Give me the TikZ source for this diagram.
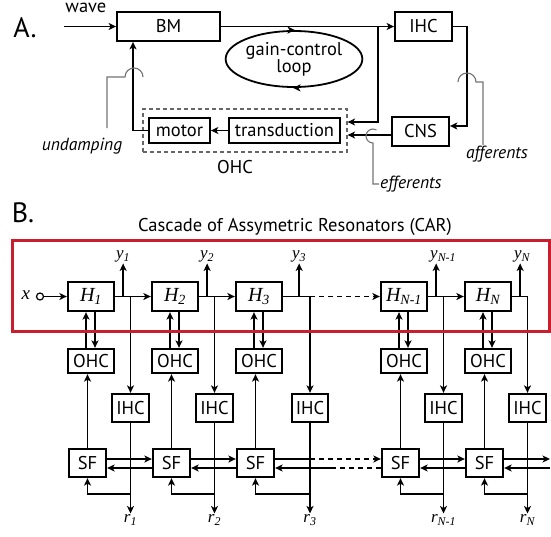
\documentclass[tikz,border=0pt]{standalone}
\usepackage{fontspec}
\setmainfont{PT Sans}
\newfontfamily\serifit{Liberation Serif}
\usetikzlibrary{positioning, calc, shapes.geometric, arrows.meta}
\definecolor{carred}{RGB}{200,30,45}
\tikzset{
	arrow/.style={line width=1.8pt, -{Stealth[length=7.5pt, width=7pt, inset=2pt]}},
	wire/.style={line width=1.8pt},
	note/.style={line width=1.1pt, draw=black!55},
	block/.style={draw, line width=1.8pt, inner sep=2pt},
	hbox/.style={block, minimum width=46.5pt, minimum height=29.5pt, font=\fontsize{20}{22}\selectfont},
	ohcbox/.style={block, minimum width=45.5pt, minimum height=24.5pt},
	ihcbox/.style={block, minimum width=36.5pt, minimum height=28.5pt},
	sfbox/.style={block, minimum width=37.5pt, minimum height=28.5pt},
	tap/.style={font=\fontsize{17}{20}\selectfont, inner sep=1pt},
	notelabel/.style={font=\fontsize{17.5}{20}\selectfont\itshape, inner sep=1pt},
}
\newcommand{\clab}[2]{{\serifit\itshape #1\textsubscript{#2}}}

\begin{document}
\begin{tikzpicture}[x=1pt, y=-1pt, on grid, font=\fontsize{18.5}{21}\selectfont]
	\useasboundingbox (0,0) rectangle (551,536);

	% panel A
	\node[font=\fontsize{28}{30}\selectfont] (labA) at (25,28) {A.};
	\node[block, minimum width=103pt, minimum height=29pt] (BM) at (168.5,26.5) {BM};
	\node[block, minimum width=57pt, minimum height=29pt] (IHCa) at (423.5,26.5) {IHC};
	\node[block, minimum width=57pt, minimum height=29pt] (CNS) at (420.5,131.5) {CNS};
	\node[block, minimum width=61pt, minimum height=25pt] (motor) at (179.5,130.5) {motor};
	\node[block, minimum width=111pt, minimum height=25pt] (trans) at (284.5,130.5) {transduction};
	\node[draw=black!60, line width=1.2pt, dash pattern=on 4pt off 3pt, minimum width=204pt, minimum height=43pt] (ohcA) at (245,130.5) {};
	\node (ohcAlab) at (235,167) {OHC};
	\node[draw, ellipse, line width=1.8pt, minimum width=102pt, minimum height=56pt, inner sep=0pt, align=center] (gcl) at (294,59) {gain-control\\[-4pt]loop};

	\coordinate (wave) at (64,26.5);
	\draw[arrow] (wave) -- (BM) node[pos=0.42, above=10pt] {wave};
	\draw[arrow] (BM) -- (IHCa);
	\coordinate (J) at (378,26.5);
	\coordinate (Jb) at (378,122);
	\draw[arrow] (J) |- (Jb -| ohcA.east);
	\coordinate (c1) at ($(CNS.west)+(0,3.5)$);
	\draw[arrow] (c1) -- (c1 -| ohcA.east);
	\draw[arrow] (trans) -- (motor);
	\coordinate (u) at (133,130.5);
	\draw[arrow] (motor.west) -- (u) -- (u |- BM.south);
	\coordinate (a1) at (467,126);
	\draw[arrow] (IHCa.east) -| (a1) -- (a1 -| CNS.east);
	\draw[arrow] ([xshift=-1pt]gcl.north) -- ([xshift=1pt]gcl.north);
	\draw[arrow] ([xshift=1pt]gcl.south) -- ([xshift=-1pt]gcl.south);

	% crossing hooks
	\node[notelabel] (und) at (82,146) {undamping};
	\node[notelabel] (aff) at (497,154) {afferents};
	\node[notelabel, anchor=west] (eff) at (379,184) {efferents};
	\coordinate (uend) at (107,128);
	\draw[note] (uend) -- (107,77) -- (125,77) arc[start angle=180, end angle=360, radius=9];
	\coordinate (affx) at (483,0);
	\draw[note] (458,82) arc[start angle=180, end angle=360, radius=9] -- (affx |- 0,82) -- (affx |- aff.north);
	\coordinate (ex) at (373,143);
	\draw[note] (eff.west) -| (ex) arc[start angle=90, end angle=300, radius=7];

	% panel B
	\node[font=\fontsize{28}{30}\selectfont] (labB) at (23,213) {B.};
	\node (cartitle) at (295,227) {Cascade of Assymetric Resonators (CAR)};

	\node[hbox] (H1) at (91,296.5) {\clab{H}{1}};
	\node[hbox, right=84pt of H1] (H2) {\clab{H}{2}};
	\node[hbox, right=84pt of H2] (H3) {\clab{H}{3}};
	\node[hbox, right=145pt of H3] (Hm) {\clab{H}{N-1}};
	\node[hbox, right=84pt of Hm] (Hn) {\clab{H}{N}};

	\node[ohcbox, below=64.5pt of H1] (O1) {OHC};
	\node[ohcbox, below=64.5pt of H2] (O2) {OHC};
	\node[ohcbox, below=64.5pt of H3] (O3) {OHC};
	\node[ohcbox, below=64.5pt of Hm] (Om) {OHC};
	\node[ohcbox, below=64.5pt of Hn] (On) {OHC};

	\node[ihcbox, below right=111.5pt and 39.5pt of H1] (I1) {IHC};
	\node[ihcbox, below right=111.5pt and 39.5pt of H2] (I2) {IHC};
	\node[ihcbox, below right=111.5pt and 51pt of H3] (I3) {IHC};
	\node[ihcbox, below right=111.5pt and 39.5pt of Hm] (Im) {IHC};
	\node[ihcbox, below right=111.5pt and 39.5pt of Hn] (In) {IHC};

	\node[sfbox, below left=166.5pt and 3.5pt of H1] (S1) {SF};
	\node[sfbox, below left=166.5pt and 3.5pt of H2] (S2) {SF};
	\node[sfbox, below left=166.5pt and 3.5pt of H3] (S3) {SF};
	\node[sfbox, below left=166.5pt and 3.5pt of Hm] (Sm) {SF};
	\node[sfbox, below left=166.5pt and 3.5pt of Hn] (Sn) {SF};

	\coordinate (t1) at ($(H1.east)+(8,0)$);
	\coordinate (t2) at ($(H2.east)+(8,0)$);
	\coordinate (t3) at ($(H3.east)+(16,0)$);
	\coordinate (tm) at ($(Hm.east)+(8,0)$);
	\coordinate (tn) at ($(Hn.east)+(8,0)$);
	\node[tap] (y1) at ($(t1)+(0,-40)$) {\clab{y}{1}};
	\node[tap] (y2) at ($(t2)+(0,-40)$) {\clab{y}{2}};
	\node[tap] (y3) at ($(t3)+(0,-40)$) {\clab{y}{3}};
	\node[tap] (ym) at ($(tm)+(7,-40)$) {\clab{y}{N-1}};
	\node[tap] (yn) at ($(tn)+(2,-40)$) {\clab{y}{N}};

	\node[tap, below=112pt of I1] (r1) {\clab{r}{1}};
	\node[tap, below=112pt of I2] (r2) {\clab{r}{2}};
	\node[tap, below=112pt of I3] (r3) {\clab{r}{3}};
	\node[tap, below=112pt of Im] (rm) {\clab{r}{N-1}};
	\node[tap, below=112pt of In] (rn) {\clab{r}{N}};

	\node[circle, draw, line width=1.2pt, inner sep=0pt, minimum size=7pt] (xin) at (40,296.5) {};
	\node[left=14pt of xin, font=\fontsize{19}{22}\selectfont] (xlab) {\clab{x}{}};
	\draw[arrow] (xin) -- (H1);

	% resonator chain
	\draw[arrow] (H1) -- (H2);
	\draw[arrow] (H2) -- (H3);
	\draw[wire] (H3) -- (I3 |- H3);
	\draw[arrow, dash pattern=on 5pt off 4pt] (I3 |- H3) -- (Hm);
	\draw[arrow] (Hm) -- (Hn);
	\draw[arrow] (Hn.east) -| (In.north);

	\draw[arrow] (t1) -- (t1 |- y1.south);
	\draw[arrow] (t2) -- (t2 |- y2.south);
	\draw[arrow] (t3) -- (t3 |- y3.south);
	\draw[arrow] (tm) -- (tm |- ym.south);
	\draw[arrow] (tn) -- (tn |- yn.south);

	\draw[arrow] (I1 |- H1) -- (I1);
	\draw[arrow] (I2 |- H2) -- (I2);
	\draw[arrow] (I3 |- H3) -- (I3);
	\draw[arrow] (Im |- Hm) -- (Im);

	% OHC loops
	\draw[arrow] ($(O1.north)+(-5,0)$) -- ($(H1.south)+(-5,0)$);
	\draw[arrow] ($(H1.south)+(4,0)$) -- ($(O1.north)+(4,0)$);
	\draw[arrow] ($(O2.north)+(-5,0)$) -- ($(H2.south)+(-5,0)$);
	\draw[arrow] ($(H2.south)+(4,0)$) -- ($(O2.north)+(4,0)$);
	\draw[arrow] ($(O3.north)+(-5,0)$) -- ($(H3.south)+(-5,0)$);
	\draw[arrow] ($(H3.south)+(4,0)$) -- ($(O3.north)+(4,0)$);
	\draw[arrow] ($(Om.north)+(-5,0)$) -- ($(Hm.south)+(-5,0)$);
	\draw[arrow] ($(Hm.south)+(4,0)$) -- ($(Om.north)+(4,0)$);
	\draw[arrow] ($(On.north)+(-5,0)$) -- ($(Hn.south)+(-5,0)$);
	\draw[arrow] ($(Hn.south)+(4,0)$) -- ($(On.north)+(4,0)$);

	\draw[arrow] (S1) -- (S1 |- O1.south);
	\draw[arrow] (S2) -- (S2 |- O2.south);
	\draw[arrow] (S3) -- (S3 |- O3.south);
	\draw[arrow] (Sm) -- (Sm |- Om.south);
	\draw[arrow] (Sn) -- (Sn |- On.south);

	% IHC outputs and feedback to SF
	\draw[arrow] (I1) -- (r1);
	\draw[arrow] (I2) -- (r2);
	\draw[arrow] (I3) -- (r3);
	\draw[arrow] (Im) -- (rm);
	\draw[arrow] (In) -- (rn);
	\draw[arrow] ($(I1 |- S1.south)+(0,16)$) -| (S1.south);
	\draw[arrow] ($(I2 |- S2.south)+(0,16)$) -| (S2.south);
	\draw[arrow] ($(I3 |- S3.south)+(0,16)$) -| (S3.south);
	\draw[arrow] ($(Im |- Sm.south)+(0,16)$) -| (Sm.south);
	\draw[arrow] ($(In |- Sn.south)+(0,16)$) -| (Sn.south);

	% SF coupling
	\draw[arrow] ($(S1.east)+(0,-4)$) -- ($(S2.west)+(0,-4)$);
	\draw[arrow] ($(S2.west)+(0,5)$) -- ($(S1.east)+(0,5)$);
	\draw[arrow] ($(S2.east)+(0,-4)$) -- ($(S3.west)+(0,-4)$);
	\draw[arrow] ($(S3.west)+(0,5)$) -- ($(S2.east)+(0,5)$);
	\draw[wire] ($(S3.east)+(0,-4)$) -- ($(I3 |- S3)+(0,-4)$);
	\draw[arrow, dash pattern=on 5pt off 4pt] ($(I3 |- S3)+(0,-4)$) -- ($(Sm.west)+(0,-4)$);
	\coordinate (d3) at ($(S3.east)!0.56!(Sm.west)+(0,5)$);
	\draw[wire, dash pattern=on 5pt off 4pt] ($(Sm.west)+(0,5)$) -- (d3);
	\draw[arrow] (d3) -- ($(S3.east)+(0,5)$);
	\draw[arrow] ($(Sm.east)+(0,-4)$) -- ($(Sn.west)+(0,-4)$);
	\draw[arrow] ($(Sn.west)+(0,5)$) -- ($(Sm.east)+(0,5)$);
	\coordinate (rim) at (550,0);
	\draw[arrow] ($(Sn.east)+(0,-4)$) -- ($(rim |- Sn)+(0,-4)$);
	\draw[arrow] ($(rim |- Sn)+(0,5)$) -- ($(Sn.east)+(0,5)$);

	\draw[carred, line width=3pt] (12,240) rectangle (549,331);
\end{tikzpicture}
\end{document}
